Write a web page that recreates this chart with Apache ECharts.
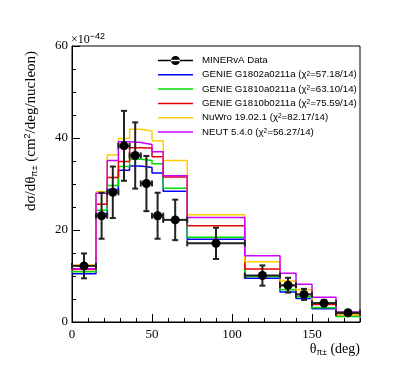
<!DOCTYPE html>
<html>
<head>
<meta charset="utf-8">
<script src="https://cdn.jsdelivr.net/npm/echarts@6/dist/echarts.min.js"></script>
<style>
  html, body { margin: 0; padding: 0; background: #fff; }
  #chart { width: 399px; height: 379px; }
</style>
</head>
<body>
<div id="chart"></div>
<script>
// bin edges of theta_pi (deg)
const binEdges = [0, 15, 22, 29, 36, 43, 50, 57, 72, 108, 130, 140, 150, 165, 180];
// MINERvA data, units of 1e-42
const dataVals = [12.2, 23.1, 28.2, 38.3, 36.2, 30.1, 23.1, 22.2, 17.1, 10.1, 8.0, 6.0, 4.1, 2.0];
const dataErr = [2.7, 5.0, 5.6, 7.6, 7.2, 6.0, 5.0, 4.4, 3.4, 2.2, 1.6, 1.2, 0.7, 0.3];
// generator predictions
const genieA = [10.5, 23.5, 28.8, 33.0, 33.9, 33.6, 32.4, 28.4, 18.0, 9.5, 6.5, 5.1, 2.9, 1.3];
const genieB = [10.9, 24.3, 29.7, 33.8, 35.4, 35.1, 34.4, 29.1, 18.4, 9.9, 7.0, 5.5, 3.1, 1.2];
const genieC = [11.4, 25.6, 31.4, 34.9, 37.9, 37.8, 35.9, 31.5, 20.9, 11.5, 7.9, 6.0, 3.8, 1.8];
const nuwro = [12.4, 28.3, 36.3, 39.9, 41.9, 41.5, 39.4, 35.1, 23.3, 13.1, 8.9, 7.0, 4.2, 1.5];
const neut = [11.6, 28.0, 35.1, 39.2, 39.0, 38.6, 37.0, 31.8, 22.7, 14.4, 10.6, 8.2, 5.4, 2.2];

const mcNames = [
  'GENIE G1802a0211a (χ{sup|2}=57.18/14)',
  'GENIE G1810a0211a (χ{sup|2}=63.10/14)',
  'GENIE G1810b0211a (χ{sup|2}=75.59/14)',
  'NuWro 19.02.1 (χ{sup|2}=82.17/14)',
  'NEUT 5.4.0 (χ{sup|2}=56.27/14)'
];
const mcColors = ['#0000ff', '#00dd00', '#ee0000', '#ffcc00', '#cc00ff'];
const mcVals = [genieA, genieB, genieC, nuwro, neut];
const dataName = 'MINERvA Data';

// histogram outline as step points
function stepLine(vals) {
  const pts = [];
  for (let i = 0; i < vals.length; i++) {
    pts.push([binEdges[i], vals[i]]);
    pts.push([binEdges[i + 1], vals[i]]);
  }
  return pts;
}

const dataPts = dataVals.map((v, i) => {
  const lo = binEdges[i], hi = binEdges[i + 1];
  return [(lo + hi) / 2, v, lo, hi, v - dataErr[i], v + dataErr[i]];
});

const serif = 'Liberation Serif';
const sans = 'Liberation Sans';

const chart = echarts.init(document.getElementById('chart'));

const mcSeries = mcVals.map((vals, k) => ({
  name: mcNames[k],
  type: 'line',
  xAxisIndex: 0,
  data: stepLine(vals),
  symbol: 'none',
  color: mcColors[k],
  itemStyle: { color: mcColors[k] },
  lineStyle: { color: mcColors[k], width: 1.5 },
  silent: true,
  animation: false,
  z: 2 + k
}));

const option = {
  animation: false,
  grid: {
    left: 72, right: 39, top: 46, bottom: 57,
    show: true, borderColor: '#000', borderWidth: 1, backgroundColor: '#fff'
  },
  legend: {
    orient: 'vertical',
    left: 158, top: 55.5,
    padding: 0,
    itemGap: 4.3,
    itemWidth: 35, itemHeight: 9,
    selectedMode: false,
    textStyle: {
      fontFamily: sans, fontSize: 9.7, color: '#000', lineHeight: 9,
      padding: [0, 0, 0, 4],
      rich: { sup: { fontSize: 6.5, verticalAlign: 'top', padding: [0, 0, 5, 0] } }
    },
    data: [
      {
        name: dataName,
        icon: 'path://M0,3.8h35v1.4h-35z M13,4.5a4.5,4.5 0 1 0 9,0a4.5,4.5 0 1 0 -9,0z',
        itemStyle: { color: '#000', opacity: 1 }
      }
    ].concat(mcNames.map(n => ({ name: n, icon: 'path://M0,0h35v1.5h-35z' })))
  },
  xAxis: [
    {
      type: 'value', min: 0, max: 180, interval: 50,
      axisLine: { lineStyle: { color: '#000', width: 1 } },
      axisTick: { inside: true, length: 8, lineStyle: { color: '#000' } },
      axisLabel: { fontFamily: serif, fontSize: 13, color: '#000', margin: 6, showMaxLabel: false },
      splitLine: { show: false }
    },
    {
      type: 'value', min: 0, max: 180, interval: 10, position: 'bottom',
      axisLine: { show: false },
      axisTick: { inside: true, length: 4, lineStyle: { color: '#000' } },
      axisLabel: { show: false },
      splitLine: { show: false }
    }
  ],
  yAxis: {
    type: 'value', min: 0, max: 60, interval: 20,
    axisLine: { show: true, lineStyle: { color: '#000', width: 1 } },
    axisTick: { inside: true, length: 8, lineStyle: { color: '#000' } },
    minorTick: { show: true, splitNumber: 4, length: 4, lineStyle: { color: '#000' } },
    axisLabel: { fontFamily: serif, fontSize: 13, color: '#000', margin: 4 },
    splitLine: { show: false }
  },
  graphic: [
    {
      type: 'text', left: 71, top: 32,
      style: {
        text: '×10{sup|−42}', fontFamily: serif, fontSize: 12, fill: '#000',
        rich: { sup: { fontSize: 9, verticalAlign: 'top', padding: [0, 0, 6, 0] } }
      }
    },
    {
      type: 'text', x: 31, y: 131, rotation: Math.PI / 2,
      style: {
        text: 'dσ/dθ{sub|π±} (cm{sup|2}/deg/nucleon)',
        fontFamily: serif, fontSize: 15, fill: '#000',
        align: 'center', verticalAlign: 'middle',
        rich: {
          sub: { fontSize: 9, padding: [7, 0, 0, 0] },
          sup: { fontSize: 9, padding: [0, 0, 7, 0] }
        }
      }
    },
    {
      type: 'text', right: 39, top: 342,
      style: {
        text: 'θ{sub|π±} (deg)', fontFamily: serif, fontSize: 14, fill: '#000',
        rich: { sub: { fontSize: 8.5, padding: [7, 0, 0, 0] } }
      }
    }
  ],
  series: mcSeries.concat([
    {
      name: dataName + ' err',
      type: 'custom',
      xAxisIndex: 0,
      data: dataPts,
      silent: true,
      z: 10,
      renderItem: function (params, api) {
        const x = api.value(0), y = api.value(1);
        const pl = api.coord([api.value(2), y]);
        const ph = api.coord([api.value(3), y]);
        const pb = api.coord([x, api.value(4)]);
        const pt = api.coord([x, api.value(5)]);
        const st = { stroke: '#222', lineWidth: 2 };
        const cap = 3;
        return {
          type: 'group',
          children: [
            { type: 'line', shape: { x1: pl[0], y1: pl[1], x2: ph[0], y2: ph[1] }, style: st },
            { type: 'line', shape: { x1: pl[0], y1: pl[1] - cap, x2: pl[0], y2: pl[1] + cap }, style: st },
            { type: 'line', shape: { x1: ph[0], y1: ph[1] - cap, x2: ph[0], y2: ph[1] + cap }, style: st },
            { type: 'line', shape: { x1: pb[0], y1: pb[1], x2: pt[0], y2: pt[1] }, style: st },
            { type: 'line', shape: { x1: pb[0] - cap, y1: pb[1], x2: pb[0] + cap, y2: pb[1] }, style: st },
            { type: 'line', shape: { x1: pt[0] - cap, y1: pt[1], x2: pt[0] + cap, y2: pt[1] }, style: st }
          ]
        };
      }
    },
    {
      name: dataName,
      type: 'scatter',
      xAxisIndex: 0,
      data: dataPts.map(p => [p[0], p[1]]),
      symbol: 'circle',
      symbolSize: 9,
      itemStyle: { color: '#000', opacity: 1 },
      silent: true,
      z: 11
    }
  ])
};

chart.setOption(option);
</script>
</body>
</html>
